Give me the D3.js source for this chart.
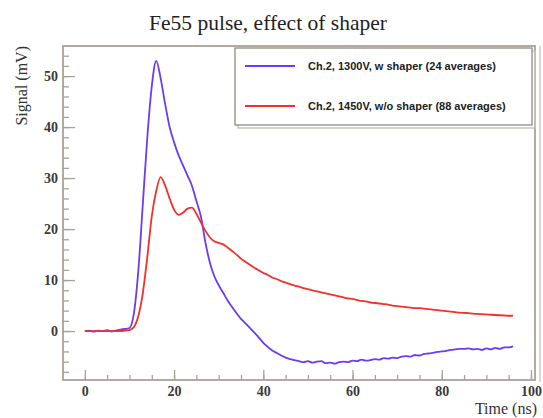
<!DOCTYPE html>
<html>
<head>
<meta charset="utf-8">
<script src="https://cdn.jsdelivr.net/npm/d3@7"></script>
<style>
  body { margin: 0; background: #fff; }
  svg { display: block; }
</style>
</head>
<body>
<div id="container"></div>
<script>
/* CONSTANTS AND GLOBALS */
const width = 543;
const height = 418;
const frame = {left: 63, right: 535, top: 46, bottom: 380};

/* DATA (1 ns steps) */
const timeNs = d3.range(0, 97);
// Ch.2, 1300V, w shaper (24 averages)
const withShaper = [
  0, 0.1, -0.1, 0.1, 0, 0.2, -0.1, 0.1, 0.3, 0.4,
  0.6, 3.5, 12, 25, 38, 48, 53, 49.5, 44.5, 40,
  37, 34.5, 32.5, 30.5, 28.5, 25.5, 22.5, 17.5, 13.5, 10.8,
  9.0, 7.5, 6.0, 4.7, 3.5, 2.4, 1.5, 0.6, -0.3, -1.3,
  -2.3, -3.1, -3.8, -4.3, -4.8, -5.2, -5.5, -5.7, -5.9, -6.1,
  -5.9, -6.2, -6.0, -5.9, -6.3, -6.2, -6.4, -6.1, -6.0, -6.1,
  -5.8, -5.9, -5.6, -5.8, -5.7, -5.5, -5.6, -5.3, -5.4, -5.2,
  -5.3, -5.0, -4.9, -5.0, -4.7, -4.8, -4.5, -4.4, -4.3, -4.1,
  -4.0, -3.9, -3.7, -3.6, -3.5, -3.5, -3.4, -3.6, -3.5, -3.7,
  -3.4, -3.6, -3.3, -3.5, -3.2, -3.2, -3.0
];
// Ch.2, 1450V, w/o shaper (88 averages)
const withoutShaper = [
  0, 0, 0, 0, 0, 0, 0, 0, 0, 0.1,
  0.2, 0.8, 3.0, 7.5, 14.5, 22.5, 27.5, 30.2, 28.5, 26.0,
  23.8, 22.8, 23.2, 24.0, 24.2, 23.0, 21.3, 19.7, 18.4, 17.6,
  17.3, 17.0, 16.4, 15.7, 15.0, 14.2, 13.6, 13.0, 12.4, 11.9,
  11.4, 11.0, 10.5, 10.2, 9.8, 9.5, 9.2, 8.9, 8.7, 8.4,
  8.2, 8.0, 7.8, 7.6, 7.4, 7.2, 7.0, 6.8, 6.6, 6.4,
  6.3, 6.1, 5.9, 5.8, 5.6, 5.5, 5.4, 5.3, 5.2, 5.0,
  4.9, 4.8, 4.7, 4.6, 4.5, 4.5, 4.4, 4.3, 4.2, 4.1,
  4.0, 3.9, 3.8, 3.7, 3.6, 3.55, 3.5, 3.4, 3.35, 3.3,
  3.25, 3.2, 3.15, 3.1, 3.05, 3.0, 3.0
];
const seriesNames = ["Ch.2, 1300V, w shaper (24 averages)", "Ch.2, 1450V, w/o shaper (88 averages)"];
const seriesColors = ["#6b3cf2", "#f2302c"];
const xMajorTicks = [0, 20, 40, 60, 80, 100];
const yMajorTicks = [0, 10, 20, 30, 40, 50];

const series = [withShaper, withoutShaper].map((vals, i) => ({
  name: seriesNames[i],
  color: seriesColors[i],
  points: timeNs.map((t, j) => ({t: t, v: vals[j]}))
}));

/* SCALES */
const xScale = d3.scaleLinear()
  .domain([-4.9, 100.9])
  .range([frame.left, frame.right]);

const yScale = d3.scaleLinear()
  .domain([-9.6, 55.9])
  .range([frame.bottom, frame.top]);

/* HTML ELEMENTS */
const svg = d3.select("#container")
  .append("svg")
    .attr("width", width)
    .attr("height", height);

const frameColor = "#a9a395";
const serif = "'Liberation Serif', 'Times New Roman', serif";

// title
svg.append("text")
  .attr("x", 268)
  .attr("y", 30)
  .attr("text-anchor", "middle")
  .style("font-family", serif)
  .style("font-size", "21.5px")
  .style("fill", "#222")
  .text("Fe55 pulse, effect of shaper");

// lines (clipped to frame)
svg.append("clipPath").attr("id", "clip")
  .append("rect")
    .attr("x", frame.left).attr("y", frame.top)
    .attr("width", frame.right - frame.left)
    .attr("height", frame.bottom - frame.top);

const line = d3.line()
  .x(d => xScale(d.t))
  .y(d => yScale(d.v))
  .curve(d3.curveMonotoneX);

svg.append("g")
  .attr("clip-path", "url(#clip)")
  .selectAll("path")
  .data(series)
  .join("path")
    .attr("d", d => line(d.points))
    .attr("fill", "none")
    .attr("stroke", d => d.color)
    .attr("stroke-width", 1.8)
    .attr("stroke-linejoin", "round");

// axes - ROOT style, ticks pointing inward
function styleAxis(g) {
  g.select(".domain").remove();
  g.selectAll(".tick line").attr("stroke", frameColor).attr("stroke-width", 1.3);
  g.selectAll(".tick text")
    .style("font-family", serif)
    .style("font-size", "14px")
    .style("font-weight", "bold")
    .style("fill", "#3a3a3a");
}

svg.append("g")
  .attr("transform", "translate(" + frame.left + ",0)")
  .call(d3.axisLeft(yScale).tickValues(d3.range(-8, 56, 2)).tickSize(-6).tickFormat(""))
  .call(styleAxis);
svg.append("g")
  .attr("transform", "translate(" + frame.left + ",0)")
  .call(d3.axisLeft(yScale).tickValues(yMajorTicks).tickSize(-12).tickPadding(5))
  .call(styleAxis);

svg.append("g")
  .attr("transform", "translate(0," + frame.bottom + ")")
  .call(d3.axisBottom(xScale).tickValues(d3.range(0, 101, 5)).tickSize(-5).tickFormat(""))
  .call(styleAxis);
svg.append("g")
  .attr("transform", "translate(0," + frame.bottom + ")")
  .call(d3.axisBottom(xScale).tickValues(xMajorTicks).tickSize(-10).tickPadding(6))
  .call(styleAxis);

// frame
svg.append("rect")
  .attr("x", frame.left).attr("y", frame.top)
  .attr("width", frame.right - frame.left)
  .attr("height", frame.bottom - frame.top)
  .attr("fill", "none")
  .attr("stroke", frameColor)
  .attr("stroke-width", 1.8);
svg.append("line")
  .attr("x1", frame.right + 5).attr("x2", frame.right + 5)
  .attr("y1", frame.top).attr("y2", frame.bottom + 2)
  .attr("stroke", "#cfcbc2").attr("stroke-width", 1.5);

// axis titles
svg.append("text")
  .attr("transform", "translate(27," + frame.top + ") rotate(-90)")
  .attr("text-anchor", "end")
  .style("font-family", serif)
  .style("font-size", "16px")
  .style("fill", "#333")
  .text("Signal (mV)");

svg.append("text")
  .attr("x", 537)
  .attr("y", 414)
  .attr("text-anchor", "end")
  .style("font-family", serif)
  .style("font-size", "16px")
  .style("fill", "#333")
  .text("Time (ns)");

// legend
const legend = {x: 235, y: 48, w: 297, h: 77};
svg.append("rect")
  .attr("x", legend.x + 3).attr("y", legend.y + 3)
  .attr("width", legend.w).attr("height", legend.h)
  .attr("fill", "none").attr("stroke", "#c9c5bb").attr("stroke-width", 1.5);
svg.append("rect")
  .attr("x", legend.x).attr("y", legend.y)
  .attr("width", legend.w).attr("height", legend.h)
  .attr("fill", "#fff").attr("stroke", "#8f8a80").attr("stroke-width", 1.3);

const entries = svg.append("g")
  .selectAll("g")
  .data(series)
  .join("g")
    .attr("transform", (d, i) => "translate(" + legend.x + "," + (legend.y + 18 + i * 40) + ")");
entries.append("line")
  .attr("x1", 10).attr("x2", 60)
  .attr("stroke", d => d.color)
  .attr("stroke-width", 1.8);
entries.append("text")
  .attr("x", 73)
  .attr("y", 4)
  .style("font-family", "'Liberation Sans', Arial, sans-serif")
  .style("font-size", "11px")
  .style("font-weight", "bold")
  .style("fill", "#222")
  .text(d => d.name);
</script>
</body>
</html>
